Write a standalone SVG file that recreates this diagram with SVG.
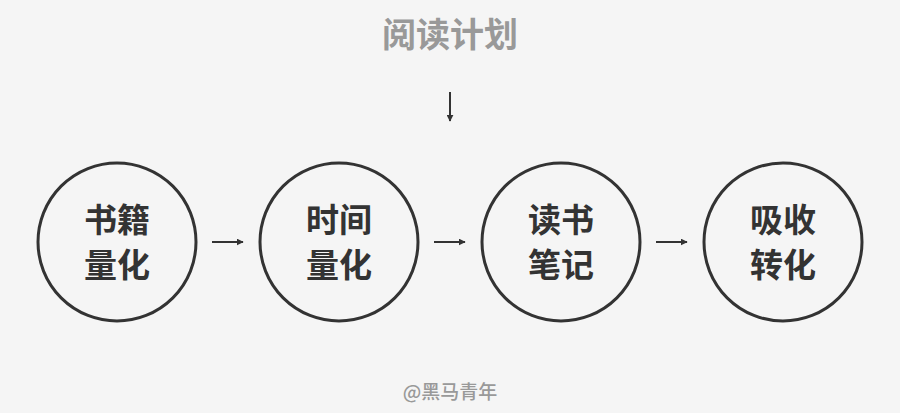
<svg xmlns="http://www.w3.org/2000/svg" width="900" height="413" viewBox="0 0 900 413">
<style>
.node circle{fill:none;stroke:#333;stroke-width:3}
.lbl{font-family:"Noto Sans CJK SC","Noto Sans",sans-serif;font-weight:bold;font-size:33px;fill:#333;text-anchor:middle}
.title{font-family:"Noto Sans CJK SC","Noto Sans",sans-serif;font-weight:bold;font-size:34px;fill:#999;text-anchor:middle}
.wm{font-family:"Noto Sans CJK SC","Noto Sans",sans-serif;font-weight:500;font-size:19px;fill:#999;text-anchor:middle}
.conn line{stroke:#333;stroke-width:2;marker-end:url(#ah)}
</style>
<defs>
<marker id="ah" viewBox="0 0 10 10" refX="9" refY="5" markerWidth="3.5" markerHeight="3.5" orient="auto" markerUnits="strokeWidth">
<path d="M0,0 L10,5 L0,10 z" fill="#333"/>
</marker>
</defs>
<rect width="900" height="413" fill="#f5f5f5"/>
<g id="title"><text class="title" x="450" y="47">阅读计划</text></g>
<g id="n1" class="node"><circle cx="117" cy="242" r="79"/><text class="lbl" x="117" y="232">书籍</text><text class="lbl" x="117" y="277">量化</text></g>
<g id="n2" class="node"><circle cx="339" cy="242" r="79"/><text class="lbl" x="339" y="232">时间</text><text class="lbl" x="339" y="277">量化</text></g>
<g id="n3" class="node"><circle cx="561" cy="242" r="79"/><text class="lbl" x="561" y="232">读书</text><text class="lbl" x="561" y="277">笔记</text></g>
<g id="n4" class="node"><circle cx="783" cy="242" r="79"/><text class="lbl" x="783" y="232">吸收</text><text class="lbl" x="783" y="277">转化</text></g>
<g id="connectors" class="conn">
<line x1="450" y1="92" x2="450" y2="121"/>
<line x1="212" y1="242" x2="243" y2="242"/>
<line x1="434" y1="242" x2="465" y2="242"/>
<line x1="656" y1="242" x2="687" y2="242"/>
</g>
<g id="watermark"><text class="wm" x="450" y="399">@黑马青年</text></g>
</svg>
